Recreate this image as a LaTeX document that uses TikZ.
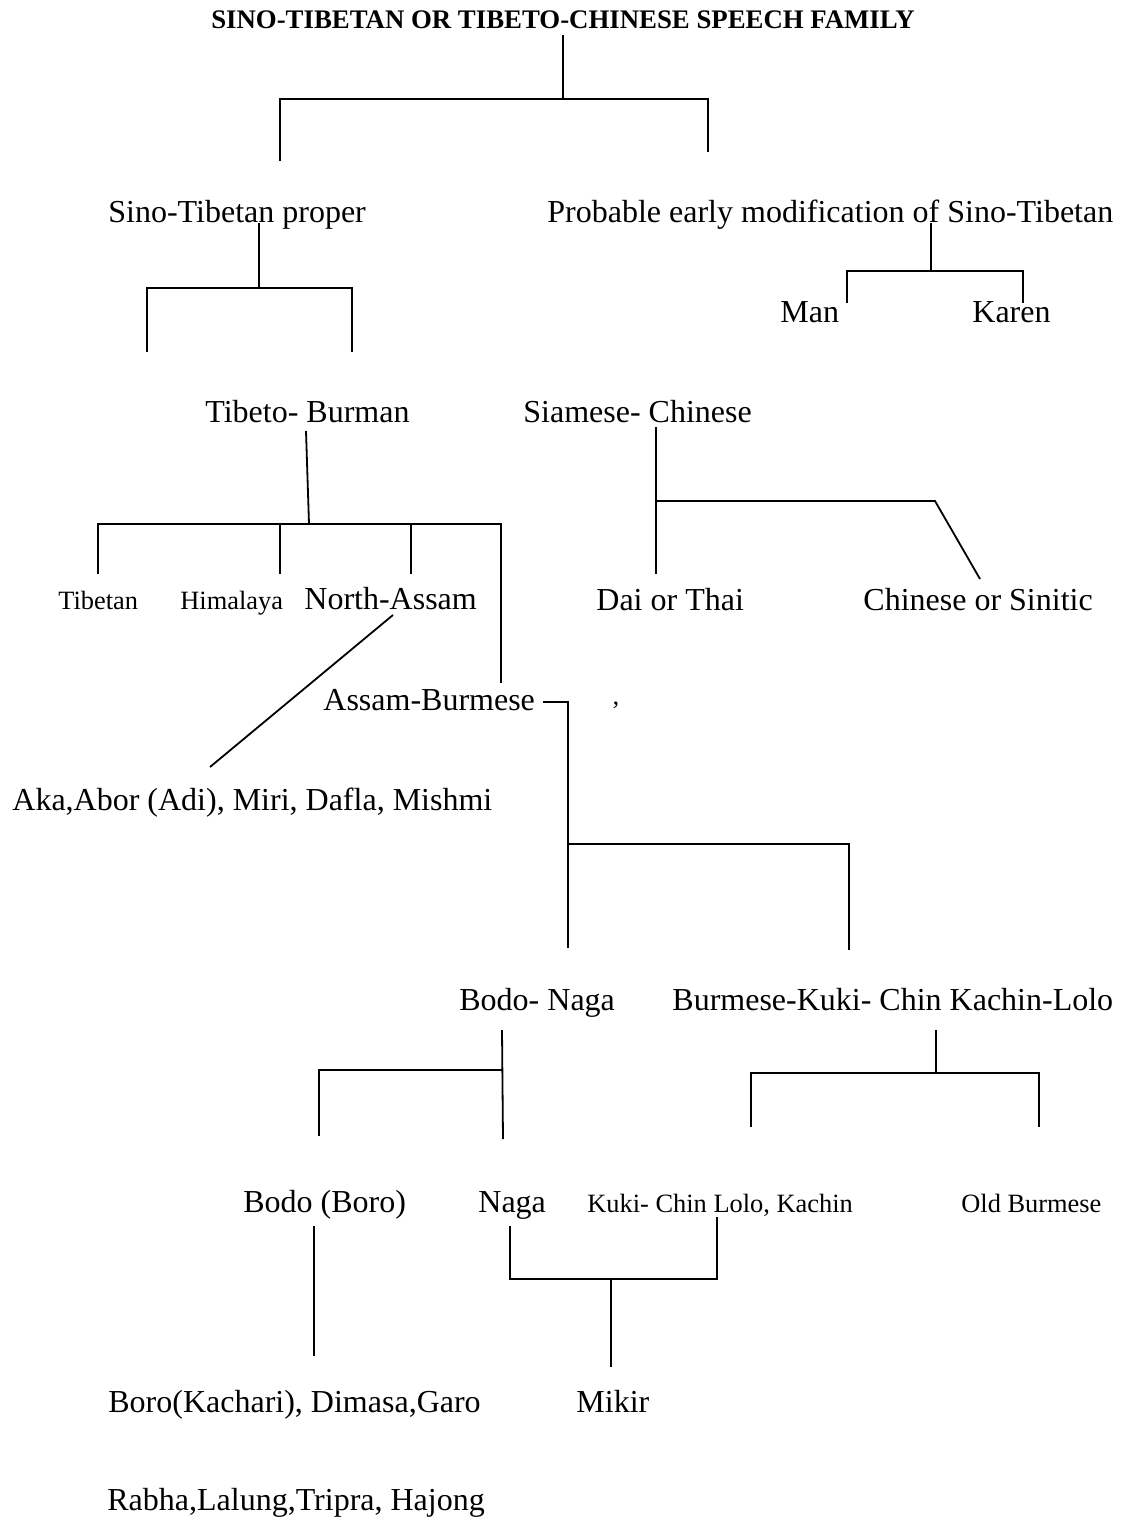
\documentclass[tikz,border=0pt]{standalone}
\usepackage{fontspec}
\setmainfont{Liberation Serif}
\usetikzlibrary{calc}

\tikzset{
    lang/.style={inner sep=0pt, anchor=base west, font=\fontsize{16}{19}\selectfont},
    sub/.style={lang, font=\fontsize{13.2}{16}\selectfont},
    branch/.style={draw, line width=0.9pt},
}

\begin{document}
\begin{tikzpicture}[x=0.5pt, y=-0.5pt]
    \useasboundingbox (0,0) rectangle (1126,1521);
    % title
    \node[inner sep=0pt, anchor=base, font=\bfseries\fontsize{13.4}{16}\selectfont](fam)at(563,28){SINO-TIBETAN OR TIBETO-CHINESE SPEECH FAMILY};
    % languages
    \node[lang](stp)at(108,222){Sino-Tibetan proper};
    \node[lang](pem)at(547,222){Probable early modification of Sino-Tibetan};
    \node[lang](man)at(780,322){Man};
    \node[lang](kar)at(972,322){Karen};
    \node[lang](tb)at(205,422){Tibeto- Burman};
    \node[lang](sc)at(523,422){Siamese- Chinese};
    \node[sub](tib)at(58,609){Tibetan};
    \node[sub](him)at(180,609){Himalaya};
    \node[lang](na)at(304,609){North-Assam};
    \node[lang](dai)at(596,610){Dai or Thai};
    \node[lang](chi)at(863,610){Chinese or Sinitic};
    \node[lang](ab)at(323,710){Assam-Burmese};
    \node[sub](tick)at(611,719){’};
    \node[lang](aka)at(12,810){Aka,Abor (Adi), Miri, Dafla, Mishmi};
    \node[lang](bn)at(459,1010){Bodo- Naga};
    \node[lang](bk)at(672,1010){Burmese-Kuki- Chin Kachin-Lolo};
    \node[lang](bb)at(243,1212){Bodo (Boro)};
    \node[lang](nag)at(478,1212){Naga};
    \node[sub](kc)at(587,1212){Kuki- Chin Lolo, Kachin};
    \node[sub](ob)at(961,1212){Old Burmese};
    \node[lang](bka)at(108,1412){Boro(Kachari), Dimasa,Garo};
    \node[lang](mik)at(576,1412){Mikir};
    \node[lang](rab)at(107,1510){Rabha,Lalung,Tripra, Hajong};
    % joints
    \coordinate (famD) at (563,35);
    \coordinate (j0) at (563,99);
    \coordinate (stpU) at (280,161);
    \coordinate (pemU) at (708,152);
    \coordinate (stpD) at (259,223);
    \coordinate (j1) at (259,288);
    \coordinate (tbU) at (147,352);
    \coordinate (scU) at (352,352);
    \coordinate (pemD) at (931,223);
    \coordinate (j2) at (931,271);
    \coordinate (manU) at (847,303);
    \coordinate (karU) at (1023,303);
    \coordinate (tbD) at (306,431);
    \coordinate (j3) at (309,524);
    \coordinate (tibU) at (98,574);
    \coordinate (himU) at (280,574);
    \coordinate (naU) at (411,574);
    \coordinate (abU) at (501,683);
    \coordinate (naD) at (393,615);
    \coordinate (akaU) at (210,767);
    \coordinate (scD) at (656,427);
    \coordinate (j4) at (656,501);
    \coordinate (daiU) at (656,574);
    \coordinate (bend) at (935,501);
    \coordinate (chiU) at (980,579);
    \coordinate (abE) at (543,702);
    \coordinate (j5) at (568,702);
    \coordinate (j6) at (568,844);
    \coordinate (bnU) at (568,948);
    \coordinate (bkU) at (849,950);
    \coordinate (bnD) at (502,1030);
    \coordinate (j7) at (502,1070);
    \coordinate (nagU) at (503,1139);
    \coordinate (bbU) at (319,1136);
    \coordinate (bkD) at (936,1030);
    \coordinate (j8) at (936,1073);
    \coordinate (kcU) at (751,1127);
    \coordinate (obU) at (1039,1127);
    \coordinate (nagD) at (510,1226);
    \coordinate (kcD) at (717,1217);
    \coordinate (j9) at (611,1279);
    \coordinate (mikU) at (611,1367);
    \coordinate (bbD) at (314,1226);
    \coordinate (bkaU) at (314,1356);
    % branches
    \path[branch](famD)--(j0);
    \path[branch](stpU)|-(j0)-|(pemU);
    \path[branch](stpD)--(j1);
    \path[branch](tbU)|-(j1)-|(scU);
    \path[branch](pemD)--(j2);
    \path[branch](manU)|-(j2)-|(karU);
    \path[branch](tbD)--(j3);
    \path[branch](tibU)|-(j3)-|(abU);
    \path[branch](himU)--(himU|-j3);
    \path[branch](naU)--(naU|-j3);
    \path[branch](naD)--(akaU);
    \path[branch](scD)--(daiU);
    \path[branch](j4)--(bend)--(chiU);
    \path[branch](abE)--(j5)--(bnU);
    \path[branch](j6)-|(bkU);
    \path[branch](bnD)--(nagU);
    \path[branch](bbU)|-(j7);
    \path[branch](bkD)--(j8);
    \path[branch](kcU)|-(j8)-|(obU);
    \path[branch](nagD)|-(j9)-|(kcD);
    \path[branch](j9)--(mikU);
    \path[branch](bbD)--(bkaU);
\end{tikzpicture}
\end{document}
